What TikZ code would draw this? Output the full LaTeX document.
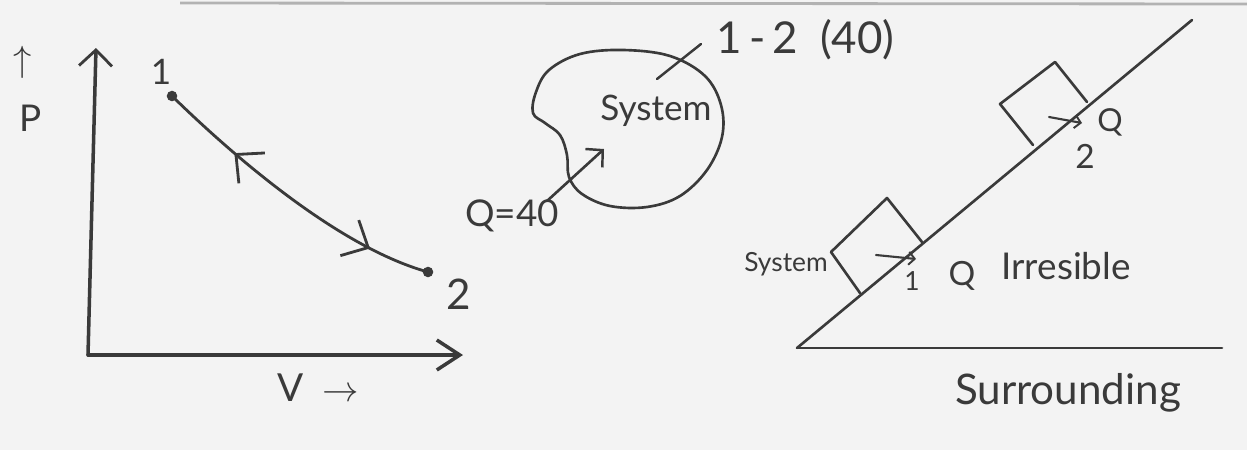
\documentclass[tikz,border=0pt]{standalone}
\usepackage{fontspec}
\setmainfont{Lato}
\usetikzlibrary{arrows.meta,decorations.markings}
\definecolor{ink}{HTML}{3A3A3A}
\definecolor{paper}{HTML}{F3F3F3}
\tikzset{
  pen/.style={draw=ink,line width=1.6pt,line cap=round,line join=round},
  thin pen/.style={draw=ink,line width=1.2pt,line cap=round,line join=round},
  bigbarb/.style={-{Straight Barb[length=0.32cm,width=0.66cm,line width=1.6pt]}},
  midbarb/.style={-{Straight Barb[length=0.24cm,width=0.5cm,line width=1.4pt]}},
  smallbarb/.style={-{Straight Barb[length=0.12cm,width=0.26cm,line width=1.1pt]}},
  lbl/.style={text=ink,inner sep=0pt},
  dot/.style={circle,fill=ink,inner sep=0pt,minimum size=6pt},
}
\begin{document}
\begin{tikzpicture}[x=0.02cm,y=-0.02cm]
\fill[paper] (0,0) rectangle (1247,450);
\useasboundingbox (0,0) rectangle (1247,450);
% page ruling at top
\draw[gray!60,line width=1.6pt] (180,3) -- (1247,4);

% ---------- P-V diagram ----------
\coordinate (O) at (88,355);
\coordinate (Ytop) at (96,48);
\coordinate (Xend) at (463,355);
\draw[pen,line width=2pt,bigbarb] (O) -- (Ytop);
\draw[pen,line width=2pt,-{Straight Barb[length=0.46cm,width=0.6cm,line width=2pt]}] (O) -- (Xend);
\node[lbl,font=\fontsize{20}{22}\selectfont] (parrow) at (23,62) {$\uparrow$};
\node[lbl,font=\fontsize{21}{24}\selectfont] (plabel) at (31,118) {P};
\node[lbl,font=\fontsize{22}{24}\selectfont] (vlabel) at (318,388) {V\hspace{0.5em}$\rightarrow$};

\node[dot] (p1) at (172,96) {};
\node[dot] (p2) at (428,272) {};
\node[lbl,font=\fontsize{20}{22}\selectfont] (l1) at (161,72) {1};
\node[lbl,font=\fontsize{24}{26}\selectfont] (l2) at (459,294) {2};
\draw[pen,postaction={decorate},decoration={markings,
   mark=at position 0.27 with {\arrowreversed{Straight Barb[length=0.42cm,width=0.8cm,line width=1.6pt]}},
   mark=at position 0.80 with {\arrow{Straight Barb[length=0.42cm,width=0.8cm,line width=1.6pt]}}}]
  (p1.center) .. controls (215,138) and (330,245) .. (p2.center);

% ---------- System blob ----------
\draw[pen,line width=1.5pt] plot[smooth cycle,tension=0.6] coordinates {
  (533,113) (536,92) (549,70) (580,54) (623,50) (670,56) (705,76) (721,105)
  (722,137) (707,170) (680,196) (647,207) (610,206) (582,194) (569,177)
  (567,155) (560,135) (545,123)};
\node[lbl,font=\fontsize{20}{22}\selectfont] (sys) at (656,111) {System};
\coordinate (leadA) at (657,79);
\coordinate (leadB) at (701,44);
\draw[thin pen,line width=1.4pt] (leadA) -- (leadB);
\node[lbl,anchor=west,font=\fontsize{25}{28}\selectfont] (q12) at (716,40) {1\,-\,2\enspace(40)};
\node[lbl,font=\fontsize{21}{24}\selectfont] (q40) at (512,216) {Q=40};
\coordinate (qa) at (547,201);
\coordinate (qb) at (604,149);
\draw[pen,line width=1.5pt,midbarb] (qa) -- (qb);

% ---------- Incline ----------
\coordinate (A) at (797,348);
\coordinate (B) at (1222,348);
\coordinate (C) at (1192,20);
\draw[pen,line width=1.5pt] (A) -- (B);
\draw[pen,line width=1.5pt] (A) -- (C);

% block 1
\draw[pen,line width=1.5pt] (860,293) -- (831,252) -- (887,198) -- (922,242);
% block 2
\draw[pen,line width=1.5pt] (1033,145) -- (1000,104) -- (1055,62) -- (1087,102);

\node[lbl,font=\fontsize{15}{17}\selectfont] (sysl) at (786,264) {System};
\coordinate (a1s) at (876,255);
\coordinate (a1e) at (916,259);
\draw[thin pen,smallbarb] (a1s) -- (a1e);
\node[lbl,font=\fontsize{19}{21}\selectfont] (Q1) at (962,276) {Q};
\node[lbl,font=\fontsize{15}{17}\selectfont] (n1) at (912,281) {1};

\coordinate (a2s) at (1049,117);
\coordinate (a2e) at (1082,123);
\draw[thin pen,smallbarb] (a2s) -- (a2e);
\node[lbl,font=\fontsize{18}{20}\selectfont] (Q2) at (1110,122) {Q};
\node[lbl,font=\fontsize{19}{21}\selectfont] (n2) at (1085,156) {2};

\node[lbl,font=\fontsize{21}{24}\selectfont] (irr) at (1066,266) {Irresible};
\node[lbl,font=\fontsize{24}{28}\selectfont] (sur) at (1068,393) {Surrounding};
\end{tikzpicture}
\end{document}
